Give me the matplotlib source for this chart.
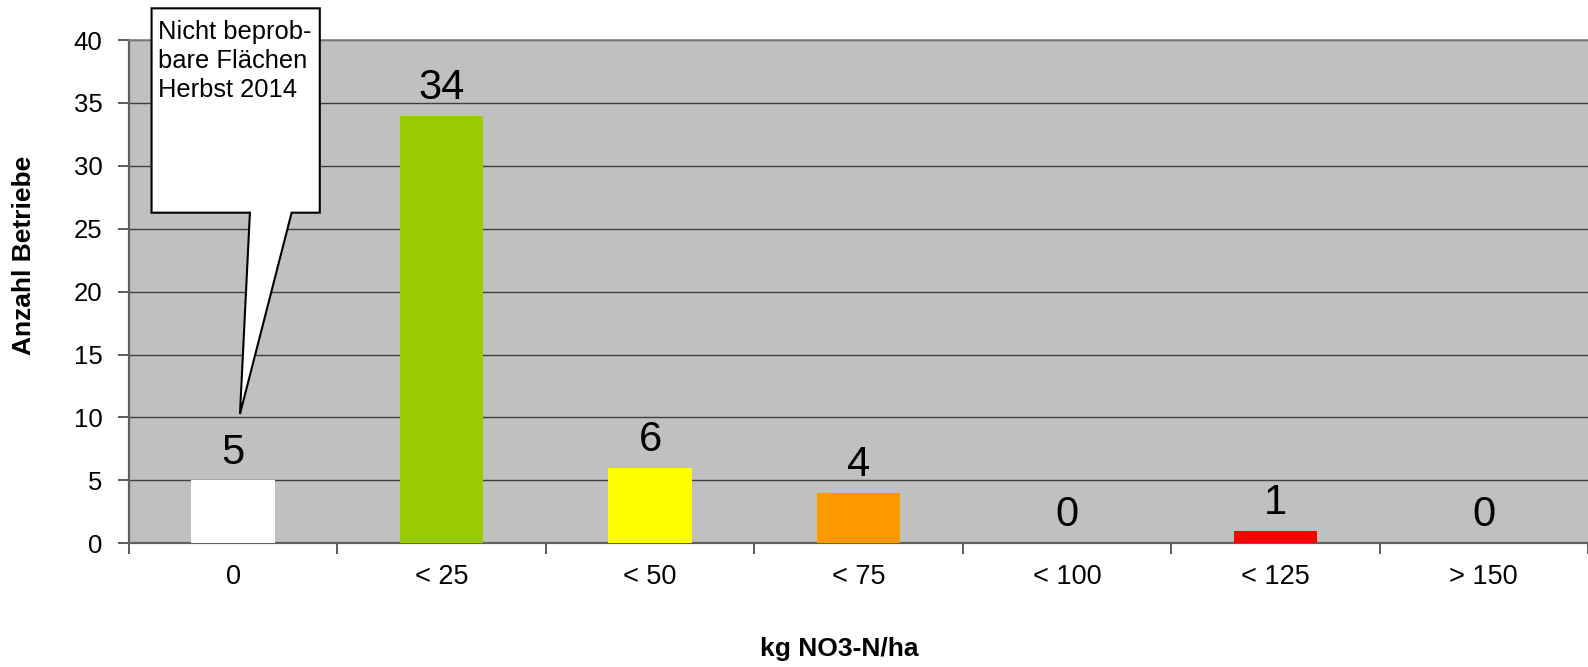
import numpy as np
import matplotlib.pyplot as plt
from matplotlib.patches import Polygon

plt.rcParams['font.family'] = ['Liberation Sans', 'DejaVu Sans']

# Daten
kategorien = ["0", "< 25", "< 50", "< 75", "< 100", "< 125", "> 150"]
anzahl = [5, 34, 6, 4, 0, 1, 0]
farben = ["#FFFFFF", "#99CC00", "#FFFF00", "#FF9900", "#FF6600", "#FF0000", "#C00000"]
yticks = [0, 5, 10, 15, 20, 25, 30, 35, 40]

fig = plt.figure(figsize=(15.88, 6.67), dpi=100)
ax = fig.add_axes([0.0812, 0.1855, 0.9188, 0.7545])
ax.set_facecolor("#C0C0C0")

x = np.arange(len(kategorien))
ax.bar(x, anzahl, width=0.40, color=farben, zorder=3)

# Werte ueber den Balken
for xi, v in zip(x, anzahl):
    ax.annotate(str(v), (xi, v), xytext=(0, 20), textcoords="offset points",
                ha="center", va="center", fontsize=30, zorder=5)

ax.set_xlim(-0.5, len(kategorien) - 0.5)
ax.set_ylim(0, 40)
ax.set_yticks(yticks)
ax.set_xticks(x)
ax.set_xticklabels(kategorien)
ax.set_xticks(np.arange(len(kategorien) + 1) - 0.5, minor=True)
ax.tick_params(axis="x", which="major", length=0, pad=15, labelsize=19.5)
ax.tick_params(axis="x", which="minor", length=8, width=1.2, color="#404040")
ax.tick_params(axis="y", length=8, width=1.2, color="#404040", pad=11, labelsize=18.5)

ax.yaxis.grid(True, color="#404040", linewidth=1.0, zorder=1)
ax.set_axisbelow(True)

for s in ["left", "bottom"]:
    ax.spines[s].set_color("#606060")
    ax.spines[s].set_linewidth(1.6)
ax.spines["top"].set_color("#808080")
ax.spines["top"].set_linewidth(1.2)
ax.spines["right"].set_visible(False)

ax.set_xlabel("kg NO3-N/ha", fontsize=19, fontweight="bold")
ax.xaxis.set_label_coords(0.487, -0.21)
ax.xaxis.label.set_va("center")
ax.set_ylabel("Anzahl Betriebe", fontsize=19, fontweight="bold")
ax.yaxis.set_label_coords(-0.072, 0.573)
ax.yaxis.label.set_va("center")

# Legende als Sprechblase
L, R, T, B = 0.0155, 0.1308, 1.063, 0.6569
pl, pr = 0.0829, 0.1115
spitze = (0.0761, 0.2569)
blase = Polygon([(L, T), (R, T), (R, B), (pr, B), spitze, (pl, B), (L, B)],
                closed=True, facecolor="white", edgecolor="black", linewidth=1.5,
                transform=ax.transAxes, clip_on=False, zorder=6)
ax.add_patch(blase)
ax.text(0.0199, 1.039, "Nicht beprob-\nbare Flächen\nHerbst 2014", transform=ax.transAxes,
        ha="left", va="top", fontsize=18.4, linespacing=1.24, zorder=7)

fig.savefig("out.png", dpi=100)
